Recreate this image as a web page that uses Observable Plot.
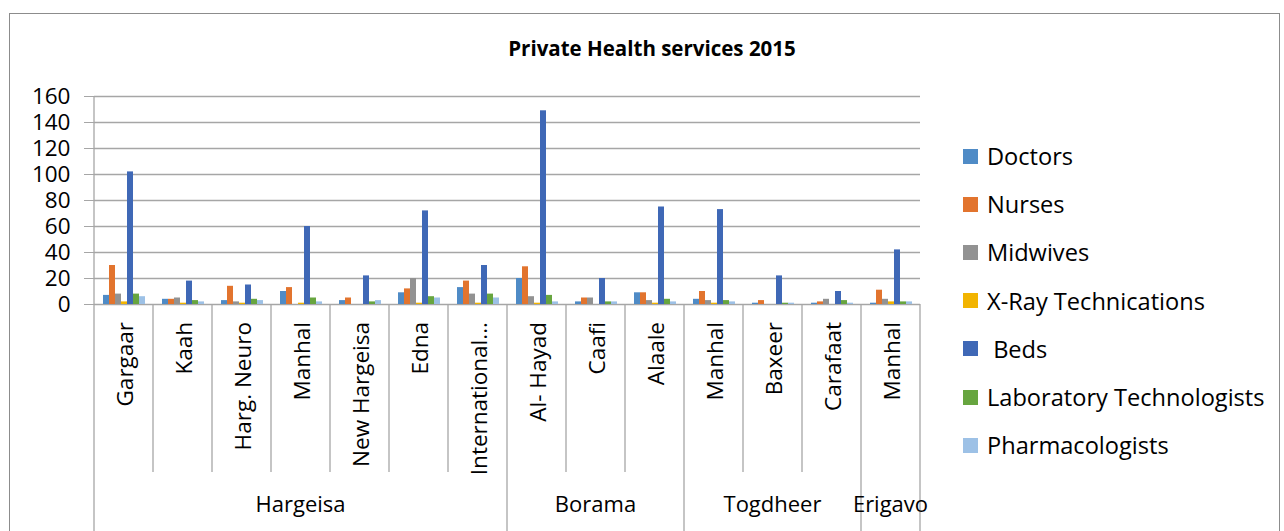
<!DOCTYPE html>
<html><head><meta charset="utf-8">
<script src="https://cdn.jsdelivr.net/npm/d3@7"></script>
<script src="https://cdn.jsdelivr.net/npm/@observablehq/plot@0.6"></script>
<style>
body{margin:0;background:#fff;font-family:"Open Sans",sans-serif;}
#wrap{position:relative;width:1284px;height:531px;overflow:hidden;}
#border{position:absolute;left:9px;top:13px;width:1271px;height:600px;border:1px solid #8c8c8c;box-sizing:border-box;}
#title{position:absolute;left:0;width:1304px;top:34px;text-align:center;font-weight:bold;font-size:20.5px;line-height:28px;color:#000;}
#chart{position:absolute;left:0;top:0;}
.item{position:absolute;left:963px;white-space:nowrap;display:flex;align-items:center;font-size:23.6px;height:30px;color:#000;}
.sw{width:15px;height:15px;margin-right:9px;flex:none;}
</style></head>
<body>
<div id="wrap">
  <div id="border"></div>
  <div id="title">Private Health services 2015</div>
  <div id="chart"></div>
  <div id="legend"></div>
</div>
<script>
const categories = ["Gargaar","Kaah","Harg. Neuro","Manhal","New Hargeisa","Edna","International...","Al- Hayad","Caafi","Alaale","Manhal","Baxeer","Carafaat","Manhal"];
const regions = ["Hargeisa","Hargeisa","Hargeisa","Hargeisa","Hargeisa","Hargeisa","Hargeisa","Borama","Borama","Borama","Togdheer","Togdheer","Togdheer","Erigavo"];
const series = ["Doctors","Nurses","Midwives","X-Ray Technications"," Beds","Laboratory Technologists","Pharmacologists"];
const colors = ["#4f8bc6","#e2742e","#929292","#f2b400","#3f68b6","#67a53f","#9dc1e6"];
const doctors  = [7,4,3,10,3,9,13,20,2,9,4,1,1,1];
const nurses   = [30,4,14,13,5,12,18,29,5,9,10,3,2,11];
const midwives = [8,5,2,0,0,20,8,6,5,3,3,0,4,4];
const xray     = [2,1,1,1,0,1,1,1,0,1,1,0,0,2];
const beds     = [102,18,15,60,22,72,30,149,20,75,73,22,10,42];
const lab      = [8,3,4,5,2,6,8,7,2,4,3,1,3,2];
const pharm    = [6,2,3,2,3,5,5,2,2,2,2,1,1,2];
const yTicks   = [0,20,40,60,80,100,120,140,160];

const values = [doctors, nurses, midwives, xray, beds, lab, pharm];
const rows = [];
categories.forEach((c, i) => values.forEach((vals, j) => rows.push({ci: i, series: series[j], value: vals[i]})));

const plot = Plot.plot({
  width: 1284, height: 531,
  marginLeft: 94, marginRight: 364, marginTop: 96, marginBottom: 227,
  fx: {domain: d3.range(categories.length), padding: 0, axis: null, label: null},
  x: {domain: series, paddingInner: 0, paddingOuter: 0.8, axis: null},
  y: {domain: [0, 160]},
  color: {domain: series, range: colors},
  style: {background: "transparent", fontFamily: "Open Sans", color: "black", overflow: "visible"},
  marks: [
    Plot.ruleY(yTicks, {stroke: "#a6a6a6", strokeWidth: 1.3}),
    Plot.barY(rows, {fx: "ci", x: "series", y: "value", fill: "series", inset: 0}),
    Plot.axisY({ticks: yTicks, tickSize: 10, tickPadding: 14, fontSize: 22.5, stroke: "#a6a6a6", fill: "black", label: null})
  ]
});
document.getElementById("chart").appendChild(plot);

// hierarchical category axis from the fx and y scales
const fxs = plot.scale("fx"), ys = plot.scale("y");
const fxb = d3.scaleBand(fxs.domain, fxs.range).paddingInner(0).paddingOuter(0);
const fxApply = fxs.apply ? (d => fxs.apply(d)) : fxb;
const bw = fxs.bandwidth ?? fxb.bandwidth();
const y0 = ys.apply(0), yTop = ys.apply(160);
const svg = d3.select(plot);
const g = svg.append("g").attr("font-family", "Open Sans").attr("fill", "black");
const n = categories.length;
for (let i = 0; i <= n; i++) {
  const xb = i < n ? fxApply(i) : fxApply(n - 1) + bw;
  const grp = i === 0 || i === n || regions[i] !== regions[i - 1];
  g.append("line")
    .attr("x1", xb).attr("x2", xb)
    .attr("y1", i === 0 ? yTop : y0).attr("y2", grp ? 540 : 472)
    .attr("stroke", "#a6a6a6").attr("stroke-width", 1.3);
}
categories.forEach((c, i) => {
  const cx = fxApply(i) + bw / 2 + 1;
  g.append("text")
    .attr("transform", `translate(${cx},${y0 + 18}) rotate(-90)`)
    .attr("text-anchor", "end").attr("dominant-baseline", "central")
    .attr("font-size", 22.5).text(c);
});
const groups = [];
regions.forEach((r, i) => {
  if (i === 0 || r !== regions[i - 1]) groups.push({name: r, start: i, end: i});
  else groups[groups.length - 1].end = i;
});
groups.forEach(gr => {
  const cx = (fxApply(gr.start) + fxApply(gr.end) + bw) / 2;
  g.append("text").attr("x", cx).attr("y", y0 + 208)
    .attr("text-anchor", "middle").attr("font-size", 22).text(gr.name);
});

// legend
const legend = document.getElementById("legend");
series.forEach((s, j) => {
  const it = document.createElement("div");
  it.className = "item";
  it.style.top = (156 + j * 48.2 - 15) + "px";
  const sw = document.createElement("span");
  sw.className = "sw"; sw.style.background = colors[j];
  const tx = document.createElement("span");
  tx.textContent = s; tx.style.whiteSpace = "pre";
  it.appendChild(sw); it.appendChild(tx);
  legend.appendChild(it);
});
</script>
</body></html>
